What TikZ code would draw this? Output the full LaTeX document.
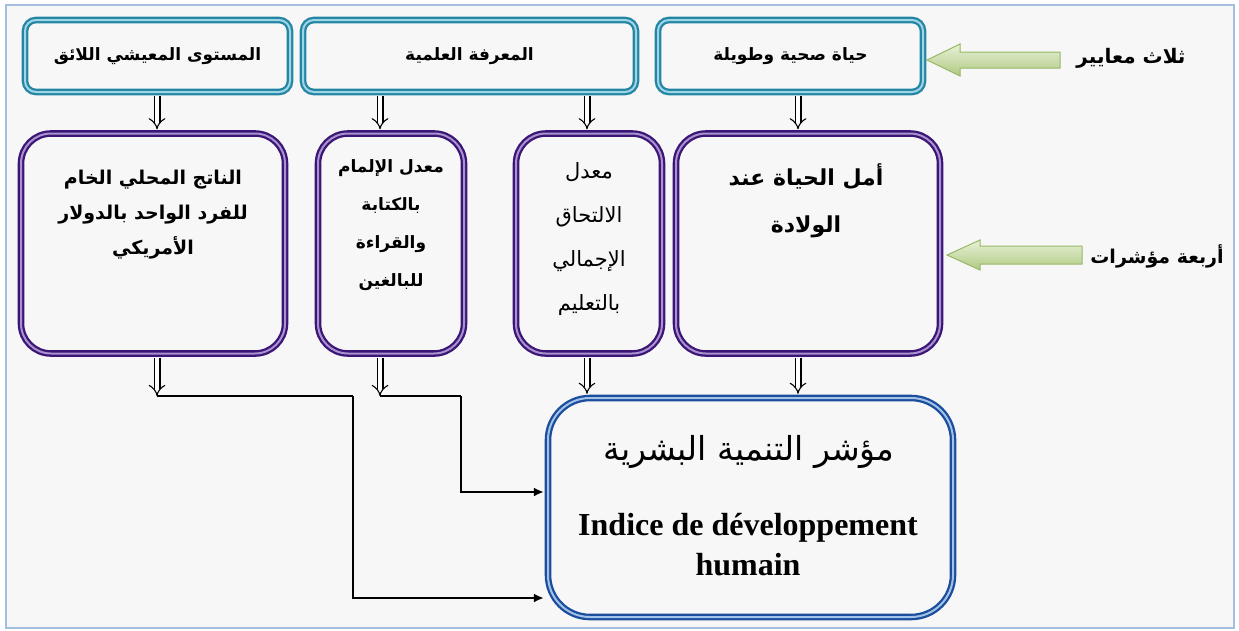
\documentclass[tikz,border=0pt]{standalone}
\usepackage{fontspec}
\setmainfont{Liberation Serif}
\newfontfamily\arabicfont[Script=Arabic]{DejaVu Sans}
\TeXXeTstate=1
\usetikzlibrary{arrows.meta,calc}
\definecolor{bgc}{HTML}{F7F7F7}
\definecolor{framec}{HTML}{A4BEE0}
\definecolor{tealD}{HTML}{2486A4}
\definecolor{tealL}{HTML}{9ED6E5}
\definecolor{purD}{HTML}{3C1676}
\definecolor{purL}{HTML}{A892CF}
\definecolor{bluD}{HTML}{1A4D9C}
\definecolor{bluL}{HTML}{A3C2E8}
\definecolor{grnD}{HTML}{98B866}
\definecolor{grnT}{HTML}{E8F1D8}
\definecolor{grnB}{HTML}{AFCA82}
\tikzset{
  tealbox/.style={draw=tealD, double=tealL, line width=2.3pt, double distance=2pt,
    fill=bgc, rounded corners=11pt, inner sep=0pt},
  purbox/.style={draw=purD, double=purL, line width=2.3pt, double distance=2pt,
    fill=bgc, rounded corners=30pt, inner sep=0pt, minimum height=220pt},
  blubox/.style={draw=bluD, double=bluL, line width=2.3pt, double distance=2pt,
    fill=bgc, rounded corners=42pt, inner sep=0pt},
  toptext/.style={font=\arabicfont\bfseries\fontsize{17}{20}\selectfont},
  ptext/.style={align=center, inner sep=0pt},
  hollow/.style={draw=black, line width=1.1pt, double=white, double distance=4.8pt,
    -{Implies}, shorten <=3pt, shorten >=3pt},
  conn/.style={draw=black, line width=2pt},
  connarrow/.style={conn, -{Latex[length=10pt,width=9pt]}, shorten >=3pt},
  garrow/.style={draw=grnD, line width=1pt, top color=grnT, bottom color=grnB},
  lab/.style={font=\arabicfont\bfseries\fontsize{20}{24}\selectfont, inner sep=0pt}
}
\begin{document}
\begin{tikzpicture}[x=1pt,y=-1pt]
\path[use as bounding box, fill=white] (0,0) rectangle (1239,630);
\draw[framec, fill=bgc, line width=1.5pt] (6,5) rectangle (1234,628);

% column coordinates
\coordinate (c1) at (157,0);
\coordinate (c2) at (380,0);
\coordinate (c3) at (587,0);
\coordinate (c4) at (798,0);

% top row
\node[tealbox, minimum width=265pt, minimum height=72pt, toptext] (A) at (157.5,56)
  {\beginR المستوى المعيشي اللائق\endR};
\node[tealbox, minimum width=333pt, minimum height=72pt, toptext] (B) at (469.5,56)
  {\beginR المعرفة العلمية\endR};
\node[tealbox, minimum width=265pt, minimum height=72pt, toptext] (C) at (790.5,56)
  {\beginR حياة صحية وطويلة\endR};

% second row
\node[purbox, minimum width=264pt] (D) at (153,243.5) {};
\node[purbox, minimum width=146pt] (E) at (391,243.5) {};
\node[purbox, minimum width=146pt] (F) at (589,243.5) {};
\node[purbox, minimum width=264pt] (G) at (808,243.5) {};

\node[ptext, font=\arabicfont\bfseries\fontsize{19}{35}\selectfont] (Dt) at (153,215)
  {\beginR الناتج المحلي الخام\endR\\\beginR للفرد الواحد بالدولار\endR\\\beginR الأمريكي\endR};
\node[ptext, font=\arabicfont\bfseries\fontsize{17}{38}\selectfont] (Et) at (391,225)
  {\beginR معدل الإلمام\endR\\\beginR بالكتابة\endR\\\beginR والقراءة\endR\\\beginR للبالغين\endR};
\node[ptext, font=\arabicfont\fontsize{21}{44}\selectfont] (Ft) at (589,239)
  {\beginR معدل\endR\\\beginR الالتحاق\endR\\\beginR الإجمالي\endR\\\beginR بالتعليم\endR};
\node[ptext, font=\arabicfont\bfseries\fontsize{22}{47}\selectfont] (Gt) at (806,201)
  {\beginR أمل الحياة عند\endR\\\beginR الولادة\endR};

% bottom box
\node[blubox, minimum width=405pt, minimum height=219pt] (H) at (750.5,507.5) {};
\node[inner sep=0pt, font=\arabicfont\fontsize{33}{36}\selectfont] (Ht) at (749,452)
  {\beginR مؤشر التنمية البشرية\endR};
\node[ptext, font=\bfseries\fontsize{32}{40}\selectfont] (Hf) at (748,545)
  {Indice de développement\\humain};

% hollow arrows top -> second row
\draw[hollow] (A.south -| c1) -- (D.north -| c1);
\draw[hollow] (B.south -| c2) -- (E.north -| c2);
\draw[hollow] (B.south -| c3) -- (F.north -| c3);
\draw[hollow] (C.south -| c4) -- (G.north -| c4);

% second row -> HDI
\coordinate (j1) at (157,396);
\coordinate (k1) at (353,396);
\coordinate (m1) at (0,598);
\coordinate (j2) at (380,396);
\coordinate (k2) at (461,396);
\coordinate (m2) at (0,492);
\draw[conn] (j1) -- (k1);
\draw[connarrow] (k1) |- (m1 -| H.west);
\draw[conn] (j2) -- (k2);
\draw[connarrow] (k2) |- (m2 -| H.west);
\draw[hollow, shorten >=0pt] (D.south -| c1) -- (j1);
\draw[hollow, shorten >=0pt] (E.south -| c2) -- (j2);
\draw[hollow] (F.south -| c3) -- (H.north -| c3);
\draw[hollow] (G.south -| c4) -- (H.north -| c4);

% labels and green arrows
\node[lab] (L1) at (1131,58) {\beginR ثلاث معايير\endR};
\node[lab, font=\arabicfont\bfseries\fontsize{19}{24}\selectfont] (L2) at (1157,256) {\beginR أربعة مؤشرات\endR};
\coordinate (t1) at (927,60);
\coordinate (t2) at (947,255);
\path[garrow] (t1) -- ++(33,-16) -- ++(0,8) -- ++(100,0) -- ++(0,16) -- ++(-100,0) -- ++(0,8) -- cycle;
\path[garrow] (t2) -- ++(33,-15) -- ++(0,6) -- ++(102,0) -- ++(0,18) -- ++(-102,0) -- ++(0,6) -- cycle;
\end{tikzpicture}
\end{document}
